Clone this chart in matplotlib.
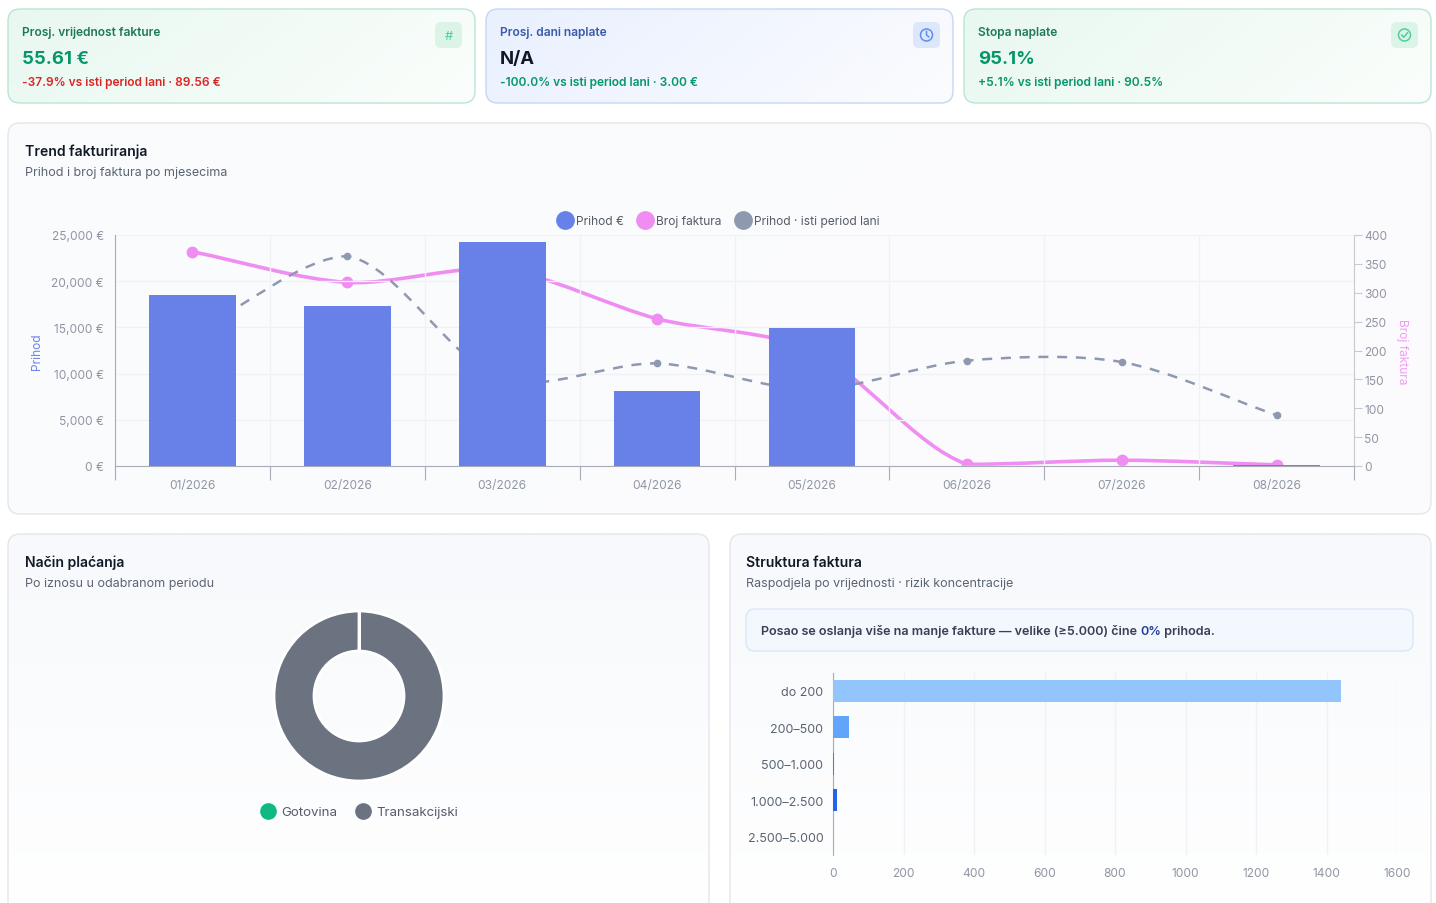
import matplotlib
matplotlib.use("Agg")
import matplotlib.pyplot as plt
import numpy as np
from matplotlib.patches import FancyBboxPatch, Circle, PathPatch
from matplotlib.path import Path
from matplotlib.lines import Line2D
from matplotlib.ticker import FuncFormatter, FixedLocator

plt.rcParams['font.family'] = ['Inter', 'DejaVu Sans']

# ---------------- data ----------------
months = ["01/2026", "02/2026", "03/2026", "04/2026", "05/2026", "06/2026", "07/2026", "08/2026"]
revenue = [18500, 17350, 24200, 8100, 14930, 20, 40, 90]
invoice_count = [371, 318, 340, 255, 200, 3, 10, 2]
revenue_last_year = [14300, 22700, 9400, 11100, 8300, 11400, 11250, 5500]

pay_labels = ["Gotovina", "Transakcijski"]
pay_values = [0.1, 99.9]

bucket_labels = ["do 200", "200–500", "500–1.000", "1.000–2.500", "2.500–5.000"]
bucket_counts = [1440, 45, 4, 12, 1]

kpi_titles = ["Prosj. vrijednost fakture", "Prosj. dani naplate", "Stopa naplate"]
kpi_values = ["55.61 €", "N/A", "95.1%"]
kpi_subs = ["-37.9% vs isti period lani · 89.56 €", "-100.0% vs isti period lani · 3.00 €",
            "+5.1% vs isti period lani · 90.5%"]

W, H = 1436, 904
fig = plt.figure(figsize=(W / 100, H / 100), dpi=100)
fig.patch.set_facecolor("white")

bg = fig.add_axes([0, 0, 1, 1])
bg.set_xlim(0, W)
bg.set_ylim(H, 0)
bg.axis("off")
bg.set_zorder(-10)

DY = 2  # vertical text offset


def px(v):
    return v * 0.72


def card(x0, y0, x1, y1, edge, c_left, c_right, r=12, vertical=False):
    p = FancyBboxPatch((x0, y0), x1 - x0, y1 - y0, boxstyle=f"round,pad=0,rounding_size={r}",
                       facecolor="none", edgecolor=edge, lw=1.0, zorder=2)
    bg.add_patch(p)
    a = np.array(matplotlib.colors.to_rgb(c_left))
    b = np.array(matplotlib.colors.to_rgb(c_right))
    if vertical:
        t = np.linspace(0, 1, 64)[:, None, None]
        img = a * (1 - t) + b * t
        img = np.repeat(img, 2, axis=1)
    else:
        gx, gy = np.meshgrid(np.linspace(0, 1, 128), np.linspace(0, 1, 32))
        t = np.clip(gx * 0.8 + gy * 0.2, 0, 1)[:, :, None]
        img = a * (1 - t) + b * t
    im = bg.imshow(img, extent=(x0, x1, y1, y0), aspect="auto", zorder=1, interpolation="bilinear")
    clip = FancyBboxPatch((x0, y0), x1 - x0, y1 - y0, boxstyle=f"round,pad=0,rounding_size={r}",
                          facecolor="none", edgecolor="none", transform=bg.transData)
    bg.add_patch(clip)
    im.set_clip_path(clip)


def label(xp, yp, s, size, color, weight="normal"):
    return bg.text(xp, yp + DY, s, fontsize=px(size), fontweight=weight, color=color,
                   va="center", ha="left", zorder=5)


# ---------------- KPI cards ----------------
kpi_x = [(8, 475), (486, 953), (964, 1431)]
kpi_edge = ["#b9e6d1", "#c5d6f5", "#b9e6d1"]
kpi_cl = ["#e8f8f0", "#e9f0fe", "#e8f8f0"]
kpi_cr = ["#fbfefc", "#fbfcff", "#fbfefc"]
kpi_title_col = ["#1f7a57", "#3a5ba8", "#1f7a57"]
kpi_val_col = ["#079669", "#111827", "#079669"]
kpi_sub_col = ["#dc2626", "#079669", "#079669"]
icon_bg = ["#dcf4e8", "#dce7fb", "#dcf4e8"]
icon_fg = ["#4fcf9c", "#5b8ff0", "#4fcf9c"]

for i, (x0, x1) in enumerate(kpi_x):
    card(x0, 10, x1, 104, kpi_edge[i], kpi_cl[i], kpi_cr[i])
    label(x0 + 14, 31, kpi_titles[i], 12, kpi_title_col[i], "semibold")
    label(x0 + 14, 57, kpi_values[i], 18.5, kpi_val_col[i], "bold")
    label(x0 + 14, 81, kpi_subs[i], 12, kpi_sub_col[i], "semibold")
    ix0 = x1 - 40
    bg.add_patch(FancyBboxPatch((ix0, 23), 27, 26, boxstyle="round,pad=0,rounding_size=6",
                                facecolor=icon_bg[i], edgecolor="none", zorder=4))
    cx, cy = ix0 + 13.5, 36
    if i == 0:
        bg.text(cx, cy + 1, "#", fontsize=px(13), color=icon_fg[i], ha="center", va="center", zorder=5)
    elif i == 1:
        bg.add_patch(Circle((cx, cy), 6, facecolor="none", edgecolor=icon_fg[i], lw=1.1, zorder=5))
        bg.add_line(Line2D([cx, cx, cx + 2.3], [cy - 3.5, cy, cy + 1.8], color=icon_fg[i], lw=1.1, zorder=5))
    else:
        bg.add_patch(Circle((cx, cy), 6, facecolor="none", edgecolor=icon_fg[i], lw=1.1, zorder=5))
        bg.add_line(Line2D([cx - 2.8, cx - 0.7, cx + 3.0], [cy, cy + 2.3, cy - 2.3], color=icon_fg[i],
                           lw=1.1, zorder=5))

# ---------------- main card ----------------
card(8, 124, 1431, 515, "#e3e6eb", "#fafbfd", "#fcfcfe")
label(25, 150, "Trend fakturiranja", 14, "#111827", "semibold")
label(25, 171, "Prihod i broj faktura po mjesecima", 12.5, "#5b6472")

# bottom cards
card(8, 535, 709, 920, "#e3e6eb", "#f7f9fc", "#ffffff", vertical=True)
card(730, 535, 1431, 920, "#e3e6eb", "#f7f9fc", "#ffffff", vertical=True)
label(25, 561, "Način plaćanja", 14, "#111827", "semibold")
label(25, 582, "Po iznosu u odabranom periodu", 12.5, "#5b6472")
label(746, 561, "Struktura faktura", 14, "#111827", "semibold")
label(746, 582, "Raspodjela po vrijednosti · rizik koncentracije", 12.5, "#5b6472")

# info box
bg.add_patch(FancyBboxPatch((746, 610), 667, 42, boxstyle="round,pad=0,rounding_size=9",
                            facecolor="#f3f7fe", edgecolor="#dbe6f8", lw=1.0, zorder=3))

# ---------------- trend chart ----------------
L, R, T, B = 115, 1354, 236, 467
ax = fig.add_axes([L / W, 1 - B / H, (R - L) / W, (B - T) / H])
ax2 = ax.twinx()
ax.set_zorder(ax2.get_zorder() + 1)
ax.patch.set_visible(False)

x = np.arange(len(months))
BAR_C = "#6781e9"
PINK = "#ef8df2"
GRAY = "#8e99b0"

ax.set_xlim(-0.5, len(months) - 0.5)
ax.set_ylim(0, 25000)
ax2.set_ylim(0, 400)


def smooth_path(xs, ys, sx, sy, smooth=0.3):
    pts = np.column_stack([np.asarray(xs, float) * sx, np.asarray(ys, float) * sy])
    n = len(pts)
    ymin, ymax = pts[:, 1].min(), pts[:, 1].max()
    cps = []
    for i in range(n):
        p = pts[i]
        prev = pts[i - 1] if i > 0 else p
        nxt = pts[i + 1] if i < n - 1 else p
        v = (nxt - prev) * smooth
        d0 = np.hypot(*(p - prev))
        d1 = np.hypot(*(p - nxt))
        tot = d0 + d1
        if tot > 0:
            d0, d1 = d0 / tot, d1 / tot
        c0 = p - v * d0
        c1 = p + v * d1
        c0[1] = np.clip(c0[1], ymin, ymax)
        c1[1] = np.clip(c1[1], ymin, ymax)
        cps.append((c0, c1))
    verts = [pts[0]]
    codes = [Path.MOVETO]
    for i in range(n - 1):
        verts += [cps[i][1], cps[i + 1][0], pts[i + 1]]
        codes += [Path.CURVE4] * 3
    verts = np.array(verts)
    verts[:, 0] /= sx
    verts[:, 1] /= sy
    return Path(verts, codes)


xs_px = (R - L) / len(months)
# last-year revenue (dashed, left axis) - below bars
p_gray = smooth_path(x, revenue_last_year, xs_px, (B - T) / 25000)
ax.add_patch(PathPatch(p_gray, facecolor="none", edgecolor=GRAY, lw=1.8, ls=(0, (4, 3.5)), zorder=1))
ax.plot(x, revenue_last_year, "o", color=GRAY, ms=4.5, zorder=1.5)

ax.bar(x, revenue, width=0.56, color=BAR_C, edgecolor="none", zorder=3)

# invoice count (right axis)
p_pink = smooth_path(x, invoice_count, xs_px, (B - T) / 400)
ax2.add_patch(PathPatch(p_pink, facecolor="none", edgecolor=PINK, lw=2.6, zorder=2))
ax2.plot(x, invoice_count, "o", color=PINK, ms=7.5, zorder=3)

# axes styling
for a in (ax, ax2):
    for s in a.spines.values():
        s.set_visible(False)
ax.spines["left"].set_visible(True)
ax.spines["bottom"].set_visible(True)
ax.spines["left"].set_color("#a8acb6")
ax.spines["bottom"].set_color("#a8acb6")
ax2.spines["right"].set_visible(True)
ax2.spines["right"].set_color("#c7cad1")

ax.set_yticks(np.arange(0, 25001, 5000))
ax.yaxis.set_major_formatter(FuncFormatter(lambda v, p: f"{v:,.0f} €"))
ax.tick_params(axis="y", length=0, pad=8, labelsize=px(12), labelcolor="#8f96a3")
ax2.set_yticks(np.arange(0, 401, 50))
ax2.tick_params(axis="y", length=6, width=0.8, color="#c7cad1", pad=1.5, labelsize=px(12),
                labelcolor="#8f96a3")

ax.set_xticks(x)
ax.set_xticklabels(months)
ax.xaxis.set_minor_locator(FixedLocator(np.arange(-0.5, len(months), 1.0)))
ax.tick_params(axis="x", which="major", length=0, pad=9.5, labelsize=px(12), labelcolor="#8f96a3")
ax.tick_params(axis="x", which="minor", length=10, width=0.8, color="#a8acb6")
ax.grid(True, axis="y", color="#eff1f4", lw=1, zorder=0)
ax.grid(True, axis="x", which="minor", color="#eff1f4", lw=1, zorder=0)
ax.set_axisbelow(True)

ax.set_ylabel("Prihod", color="#6e84ea", fontsize=px(12))
ax.yaxis.set_label_coords((43 - L) / (R - L), 0.5)
ax2.set_ylabel("Broj faktura", color="#f29bf4", fontsize=px(12), rotation=-90)
ax2.yaxis.set_label_coords((1408 - L) / (R - L), 0.5)

handles = [Line2D([], [], marker="o", ls="", ms=12.5, color=BAR_C),
           Line2D([], [], marker="o", ls="", ms=12.5, color=PINK),
           Line2D([], [], marker="o", ls="", ms=12.5, color=GRAY)]
fig.legend(handles, ["Prihod €", "Broj faktura", "Prihod · isti period lani"], loc="center",
           bbox_to_anchor=(718 / W, 1 - (220 + DY) / H), ncol=3, frameon=False, handlelength=1.4,
           handletextpad=0.25, columnspacing=1.05, fontsize=px(12), labelcolor="#555c68")

# ---------------- donut ----------------
cxp, cyp = 359, 697
axp = fig.add_axes([(cxp - 100) / W, 1 - (cyp + 100) / H, 200 / W, 200 / H])
axp.pie(pay_values, colors=["#10b981", "#6b7280"], startangle=90, counterclock=False, radius=0.85,
        wedgeprops=dict(width=0.40, edgecolor="white", linewidth=2))
axp.set_xlim(-1, 1)
axp.set_ylim(-1, 1)
axp.set_aspect("equal")
axp.axis("off")
ph = [Line2D([], [], marker="o", ls="", ms=11, color="#10b981"),
      Line2D([], [], marker="o", ls="", ms=11, color="#6b7280")]
fig.legend(ph, pay_labels, loc="center", bbox_to_anchor=(359 / W, 1 - (811 + DY) / H), ncol=2,
           frameon=False, handlelength=1.1, handletextpad=0.45, columnspacing=1.4, fontsize=px(13.3),
           labelcolor="#555c68")

# ---------------- bucket bars ----------------
bL, bR, bT, bB = 833, 1397, 673.5, 856
axb = fig.add_axes([bL / W, 1 - bB / H, (bR - bL) / W, (bB - bT) / H])
yb = np.arange(len(bucket_labels))
axb.barh(yb, bucket_counts, height=0.6, color=["#93c5fd", "#60a5fa", "#3b82f6", "#2563eb", "#1d4ed8"],
         zorder=3)
axb.set_ylim(len(bucket_labels) - 0.5, -0.5)
axb.set_xlim(0, 1600)
axb.set_yticks(yb)
axb.set_yticklabels(bucket_labels)
axb.set_xticks(np.arange(0, 1601, 200))
axb.patch.set_visible(False)
for s in axb.spines.values():
    s.set_visible(False)
axb.spines["left"].set_visible(True)
axb.spines["left"].set_color("#a8acb6")
axb.tick_params(axis="y", length=0, pad=7, labelsize=px(12.5), labelcolor="#5b6472")
axb.tick_params(axis="x", length=0, pad=9, labelsize=px(12), labelcolor="#8f96a3")
axb.grid(True, axis="x", color="#eff1f4", lw=1, zorder=0)
axb.set_axisbelow(True)

# info text with highlighted part
renderer = fig.canvas.get_renderer()
parts = [("Posao se oslanja više na manje fakture — velike (≥5.000) čine ", "#374151"),
         ("0%", "#1e3a9e"), (" prihoda.", "#374151")]
xc = 761
for txt, col in parts:
    t = bg.text(xc, 630 + DY, txt, fontsize=px(12.6), fontweight="semibold", color=col, va="center",
                ha="left", zorder=5)
    bb = t.get_window_extent(renderer)
    xc += bb.width

fig.savefig("out.png", dpi=100, facecolor="white")
